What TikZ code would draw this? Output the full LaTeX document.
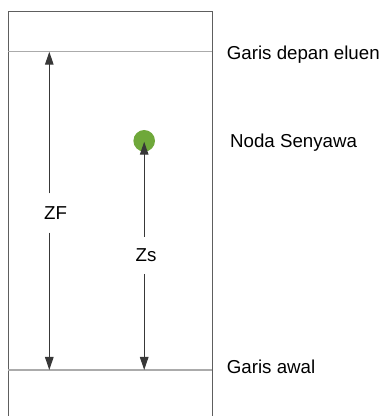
\documentclass[tikz,border=0pt]{standalone}
\usepackage{fontspec}
\setmainfont{Liberation Sans}
\usetikzlibrary{arrows.meta}
\definecolor{framegray}{HTML}{5E5E5E}
\definecolor{linegray}{HTML}{ABABAB}
\definecolor{arrowgray}{HTML}{383838}
\definecolor{spotgreen}{HTML}{6FA83A}
\tikzset{
  plate/.style={draw=framegray, line width=1.4pt},
  mark line/.style={draw=linegray, line width=1.2pt},
  dist/.style={draw=arrowgray, line width=1.1pt, -{Triangle[length=13pt,width=8.5pt]}},
  lbl/.style={font=\fontsize{18.7}{21}\selectfont, text=black, inner sep=0pt, anchor=base},
  side/.style={lbl, anchor=base west},
}
\begin{document}
\begin{tikzpicture}[x=1pt,y=1pt]
\useasboundingbox (0,0) rectangle (384,416);
% plate outline (open at the bottom edge)
\draw[plate] (8.3,-2) -- (8.3,404.5) -- (212.3,404.5) -- (212.3,-2);
% front line and start line
\coordinate (fl) at (8.3,364.3);
\coordinate (fr) at (212.3,364.3);
\coordinate (sl) at (8.3,46);
\coordinate (sr) at (212.3,46);
\draw[mark line] (fl) -- (fr);
\draw[mark line] (sl) -- (sr);
% spot
\fill[spotgreen] (144.2,275.2) circle (10.8);
\coordinate (spot) at (144.2,274.3);
% distance labels
\node[lbl] (zf) at (55.5,196.7) {ZF};
\node[lbl] (zs) at (146,154.3) {Zs};
% ZF arrows
\coordinate (zftop) at (49.3,364.3);
\coordinate (zfbot) at (49.3,46);
\coordinate (zfa) at (49.3,222.7);
\coordinate (zfb) at (49.3,183.3);
\draw[dist] (zfa) -- (zftop);
\draw[dist] (zfb) -- (zfbot);
% Zs arrows
\coordinate (zsbot) at (144.2,46);
\coordinate (zsa) at (144.2,179.3);
\coordinate (zsb) at (144.2,142);
\draw[dist] (zsa) -- (spot);
\draw[dist] (zsb) -- (zsbot);
% side labels
\node[side] (t1) at (226.7,356.7) {Garis depan eluen};
\node[side] (t2) at (230,268) {Noda Senyawa};
\node[side] (t3) at (226.7,42) {Garis awal};
\end{tikzpicture}
\end{document}
